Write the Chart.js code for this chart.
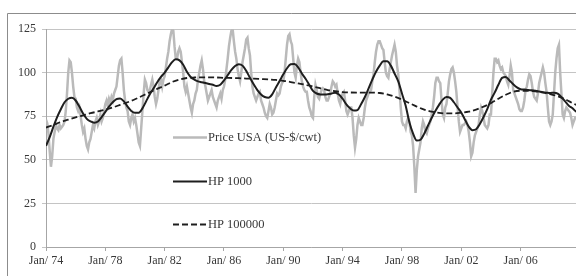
<!DOCTYPE html>
<html><head><meta charset="utf-8">
<script src="https://cdn.jsdelivr.net/npm/chart.js@4/dist/chart.umd.min.js"></script>
<style>html,body{margin:0;padding:0;background:#fff;}canvas{display:block;}</style>
</head><body>
<canvas id="c" width="576" height="276"></canvas>
<script>
// Monthly price USA (US-$/cwt), Jan 1974 onwards, one row per year
const price1974_1979 = [
  73, 71, 65, 55, 46, 52, 62, 66, 70, 68, 67, 70,
  68, 69, 70, 72, 78, 88, 100, 107, 106, 100, 92, 86,
  85, 80, 78, 80, 75, 70, 66, 68, 62, 58, 56, 60,
  62, 66, 70, 68, 72, 74, 70, 72, 76, 72, 74, 78,
  82, 84, 81, 85, 83, 86, 84, 88, 90, 92, 98, 104,
  107, 108, 100, 90, 84, 80, 78, 72, 70, 74, 76, 72
];
const price1980_1985 = [
  74, 70, 65, 60, 58, 68, 78, 88, 96, 94, 90, 89,
  90, 93, 96, 92, 86, 82, 85, 90, 95, 96, 92, 96,
  98, 103, 108, 112, 118, 122, 125, 124, 115, 108, 108, 112,
  114, 112, 106, 100, 92, 89, 92, 88, 84, 80, 77, 82,
  84, 88, 90, 96, 100, 104, 107, 102, 95, 92, 88, 84,
  86, 88, 90, 86, 84, 82, 80, 84, 86, 88, 85, 90
];
const price1986_1991 = [
  92, 96, 102, 108, 115, 120, 124, 125, 118, 112, 108, 102,
  98, 95, 100, 106, 110, 114, 119, 120, 114, 110, 100, 92,
  88, 86, 84, 86, 88, 89, 84, 82, 80, 77, 75, 74,
  78, 82, 80, 76, 77, 80, 84, 88, 87, 88, 92, 94,
  95, 100, 108, 116, 121, 122, 118, 116, 108, 100, 97, 104,
  108, 106, 100, 95, 92, 90, 89, 89, 84, 80, 78, 75
];
const price1992_1997 = [
  74, 86, 93, 90, 86, 85, 88, 90, 91, 90, 86, 84,
  84, 86, 88, 92, 95, 94, 92, 93, 88, 84, 82, 86,
  88, 89, 84, 78, 76, 78, 80, 80, 74, 64, 57, 62,
  70, 74, 72, 70, 70, 74, 80, 84, 86, 88, 89, 90,
  95, 99, 106, 112, 116, 118, 118, 116, 114, 113, 106, 100,
  98, 97, 102, 106, 110, 113, 116, 112, 104, 99, 90, 80
];
const price1998_2003 = [
  72, 70, 70, 68, 72, 74, 72, 66, 64, 58, 46, 31,
  44, 52, 56, 60, 68, 72, 70, 66, 65, 68, 70, 72,
  76, 80, 86, 94, 97, 97, 95, 94, 84, 76, 74, 80,
  82, 88, 95, 99, 102, 103, 100, 95, 89, 80, 72, 66,
  68, 70, 70, 71, 72, 70, 66, 60, 52, 54, 60, 64,
  66, 68, 70, 76, 80, 78, 74, 70, 69, 68, 70, 76
];
const price2004_2009 = [
  76, 88, 100, 108, 108, 106, 107, 104, 102, 103, 100, 99,
  98, 95, 93, 98, 104, 100, 90, 88, 86, 84, 82, 79,
  78, 78, 80, 84, 90, 92, 96, 99, 98, 94, 89, 86,
  85, 84, 88, 94, 97, 100, 103, 100, 94, 89, 80, 72,
  70, 72, 76, 88, 100, 108, 114, 116, 100, 88, 76, 74,
  78, 80, 79, 78, 77, 74, 70, 72, 74, 74, 76, 78
];
// HP filter, lambda 1000 — quarterly samples (Jan, Apr, Jul, Oct) from Jan 1974
const hp1000 = [
  58, 63, 69, 74.5,  79, 83, 85, 85.6,  84, 80.5, 76.5, 73.5,  72, 71.3, 72, 74.5,
  77.5, 80.5, 83, 84.8,  85.2, 83.5, 80.5, 78,  77, 77, 79.5, 83.5,  87.6, 91, 94.5, 97.5,
  100, 103, 106, 107.6,  107, 104.5, 100.5, 97.5,  96, 95, 94.5, 94,  93.5, 93, 92.3, 93,
  95.5, 98.5, 101.5, 103.8,  104.8, 104, 101, 97,  93.3, 90, 87.5, 86,  85.6, 87.5, 91.5, 95.2,
  99, 102.5, 104.8, 105,  103, 99.5, 96.5, 93,  89.5, 88, 87.5, 87.5,  87.6, 88, 88.5, 87.5,
  85, 81.8, 79.5, 78.2,  78.5, 82, 86, 91,  96, 100.5, 104, 106.5,  106.5, 104, 99.5, 95,
  88, 81, 71.5, 65,  61, 61.5, 65, 69.5,  74, 78, 81.5, 84.5,  86, 85.5, 83, 80,
  77, 73, 69, 67,  67.5, 70.5, 74.5, 79,  84.5, 88.5, 93, 97,  97.5, 95.5, 93.3, 91.5,
  90.5, 90.3, 90, 89.9,  89.6, 89.2, 88.8, 88.5,  88.3, 88.5, 88, 86,  83.5, 81, 79.5, 77.5,
  76
];
// HP filter, lambda 100000 — half-yearly samples (Jan, Jul) from Jan 1974
const hp100000 = [
  68.5, 70, 71.7, 73, 74.3, 75.5, 76.7, 77.7, 78.7, 80,
  81.5, 83, 84.7, 86.7, 88.7, 90.7, 92.5, 94.6, 96, 96.9,
  97.2, 97.3, 97.3, 97.2, 97, 96.9, 96.8, 96.6, 96.5, 96.3,
  96.1, 95.8, 95.3, 94.6, 93.8, 93, 92, 91, 90, 89.3,
  88.8, 88.6, 88.5, 88.5, 88.5, 88.3, 87.5, 86.2, 84.5, 82.5,
  80.5, 78.8, 77.6, 76.9, 76.6, 76.6, 77, 77.6, 78.8, 80.5,
  82.5, 85, 87.3, 89, 89.6, 89.6, 89.2, 88.5, 87.6, 86.5,
  84.7, 82.5, 80.5
];
const xTickLabels = ['Jan/ 74', 'Jan/ 78', 'Jan/ 82', 'Jan/ 86', 'Jan/ 90', 'Jan/ 94', 'Jan/ 98', 'Jan/ 02', 'Jan/ 06'];
const yTicks = [0, 25, 50, 75, 100, 125];
const seriesNames = ['Price USA (US-$/cwt)', 'HP 1000', 'HP 100000'];

const priceUSA = [].concat(price1974_1979, price1980_1985, price1986_1991, price1992_1997, price1998_2003, price2004_2009);
const FONT = 'Liberation Serif, Times New Roman, serif';
const TXT = '#383838';

const legendPlugin = {
  id: 'inlineLegend',
  afterDatasetsDraw(chart) {
    const ctx = chart.ctx;
    const ys = [137, 181, 224];
    const order = [2, 1, 0];
    ctx.save();
    order.forEach((dsIdx, k) => {
      const ds = chart.data.datasets[dsIdx];
      ctx.beginPath();
      ctx.strokeStyle = ds.borderColor;
      ctx.lineWidth = ds.borderWidth;
      ctx.setLineDash(ds.borderDash || []);
      ctx.moveTo(173, ys[k] + 0.5);
      ctx.lineTo(207, ys[k] + 0.5);
      ctx.stroke();
      ctx.setLineDash([]);
      ctx.fillStyle = TXT;
      ctx.font = '12.5px ' + FONT;
      ctx.textBaseline = 'middle';
      ctx.textAlign = 'left';
      ctx.fillText(ds.label, 208, ys[k] + 0.5);
    });
    ctx.restore();
  }
};
const framePlugin = {
  id: 'frame',
  afterDraw(chart) {
    const ctx = chart.ctx;
    ctx.save();
    ctx.strokeStyle = '#8c8c8c';
    ctx.lineWidth = 1;
    ctx.beginPath();
    ctx.moveTo(7.5, 276);
    ctx.lineTo(7.5, 13.5);
    ctx.lineTo(576, 13.5);
    ctx.stroke();
    ctx.restore();
  }
};

new Chart(document.getElementById('c'), {
  type: 'line',
  data: {
    datasets: [
      { label: seriesNames[2], data: hp100000.map((v, i) => ({ x: i * 6, y: v })),
        borderColor: '#1e1e1e', borderWidth: 1.8, borderDash: [6, 3], pointRadius: 0,
        cubicInterpolationMode: 'monotone', order: 1 },
      { label: seriesNames[1], data: hp1000.map((v, i) => ({ x: i * 3, y: v })),
        borderColor: '#1e1e1e', borderWidth: 2, pointRadius: 0,
        cubicInterpolationMode: 'monotone', order: 2 },
      { label: seriesNames[0], data: priceUSA.map((v, i) => ({ x: i, y: v })),
        borderColor: '#bababa', borderWidth: 2.5, pointRadius: 0, tension: 0, order: 3 }
    ]
  },
  options: {
    responsive: false,
    animation: false,
    devicePixelRatio: 1,
    layout: { padding: { top: 29, left: 0, right: 0, bottom: 0 } },
    plugins: { legend: { display: false }, tooltip: { enabled: false } },
    scales: {
      x: {
        type: 'linear', min: 0, max: 428.8,
        afterBuildTicks: (s) => { s.ticks = xTickLabels.map((_, i) => ({ value: i * 48 })); },
        afterFit: (s) => { s.height = 29; },
        ticks: { callback: (v) => xTickLabels[Math.round(v / 48)], maxRotation: 0, autoSkip: false,
                 font: { family: FONT, size: 12 }, color: TXT, padding: 3 },
        grid: { drawOnChartArea: false, drawTicks: true, tickLength: 4, color: '#a6a6a6' },
        border: { color: '#a6a6a6' }
      },
      y: {
        min: 0, max: 125,
        afterBuildTicks: (s) => { s.ticks = yTicks.map(v => ({ value: v })); },
        afterFit: (s) => { s.width = 46; },
        ticks: { font: { family: FONT, size: 12 }, color: TXT, padding: 6 },
        grid: { color: '#c4c4c4', tickLength: 4 },
        border: { color: '#a6a6a6' }
      }
    }
  },
  plugins: [legendPlugin, framePlugin]
});
</script>
</body></html>
